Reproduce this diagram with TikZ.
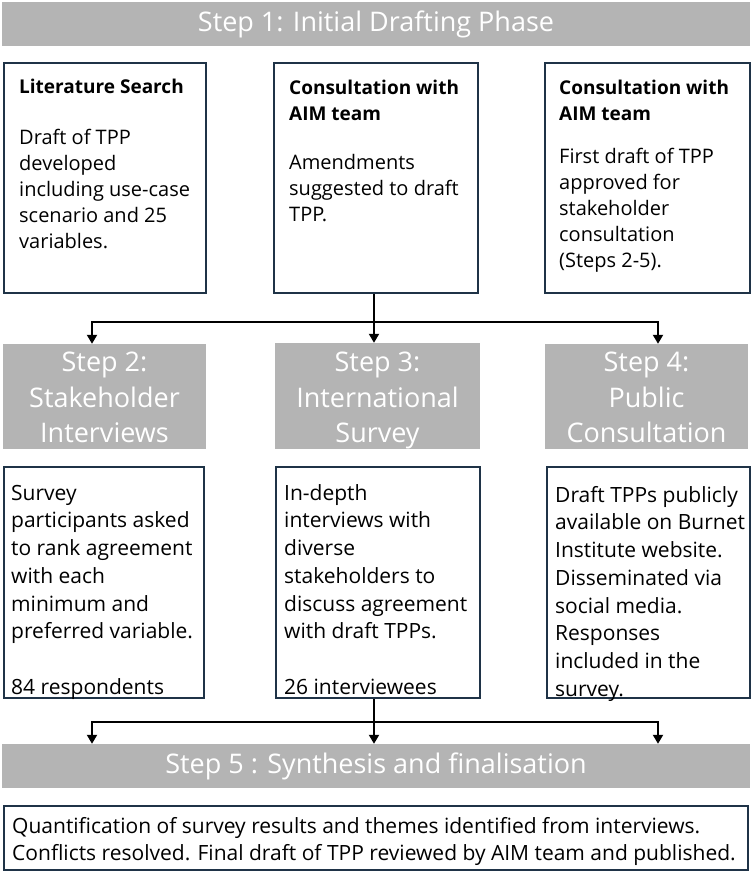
\documentclass[tikz,border=0pt]{standalone}
\usepackage{fontspec}
\setmainfont{Open Sans}
\usetikzlibrary{arrows.meta}
\definecolor{hgray}{RGB}{180,180,180}
\definecolor{bdr}{HTML}{1F3347}
\newcommand{\fstrut}{\rule{0pt}{16pt}}
\newcommand{\hstrut}{\rule{0pt}{22pt}}
\begin{document}
\begin{tikzpicture}[x=1pt,y=-1pt,
  banner/.style={fill=hgray, inner sep=0pt, text=white, font=\fontsize{27}{35}\selectfont, align=center},
  htext/.style={anchor=north, inner sep=0pt, text=white, font=\fontsize{27}{35.5}\selectfont, align=center},
  frame/.style={draw=bdr, line width=2pt, fill=white, inner sep=0pt},
  body/.style={anchor=north west, inner sep=0pt, align=left, font=\fontsize{20}{26}\selectfont},
  bodyb/.style={body, font=\fontsize{21}{27.7}\selectfont},
  conn/.style={line width=2pt, black},
  arr/.style={conn, -{Triangle[length=9pt,width=10pt]}}]

\useasboundingbox (0,0) rectangle (752,873);

% Step 1 banner
\node[banner, minimum width=748, minimum height=44] (s1) at (376,24) {Step 1: Initial Drafting Phase};

% Row 1 boxes
\node[frame, minimum width=202, minimum height=230] (b1) at (105,178) {};
\node[frame, minimum width=204, minimum height=230] (b2) at (376,178) {};
\node[frame, minimum width=205, minimum height=230] (b3) at (647.5,178) {};

\node[body] (t1) at (19,77) {\fstrut{\bfseries\fontsize{19}{26}\selectfont Literature Search}\\[25pt]
  Draft of TPP\\developed\\including use-case\\scenario and 25\\variables.};
\node[body] (t2) at (289,78) {\fstrut{\bfseries\fontsize{19}{26}\selectfont Consultation with}\\
  {\bfseries\fontsize{19}{26}\selectfont AIM team}\\[23pt]
  Amendments\\suggested to draft\\TPP.};
\node[body] (t3) at (559,78) {\fstrut{\bfseries\fontsize{19}{26}\selectfont Consultation with}\\
  {\bfseries\fontsize{19}{26}\selectfont AIM team}\\[17pt]
  First draft of TPP\\approved for\\stakeholder\\consultation\\(Steps 2-5).};

% Row 2 grey headers
\node[banner, minimum width=203, minimum height=105] (h1) at (104.5,396.5) {};
\node[banner, minimum width=205, minimum height=106] (h2) at (377.5,396) {};
\node[banner, minimum width=203, minimum height=105] (h3) at (646.5,396.5) {};
\node[htext] (g1) at (104.5,349.5) {\hstrut Step 2:\\Stakeholder\\Interviews};
\node[htext] (g2) at (377.5,349.5) {\hstrut Step 3:\\International\\Survey};
\node[htext] (g3) at (646.5,349.5) {\hstrut Step 4:\\Public\\Consultation};

% Row 3 boxes
\node[frame, minimum width=200, minimum height=231] (r1) at (104,582.5) {};
\node[frame, minimum width=204, minimum height=231] (r2) at (378,582.5) {};
\node[frame, minimum width=203, minimum height=231] (r3) at (648.5,582.5) {};

\node[bodyb] (u1) at (11,484) {\fstrut Survey\\participants asked\\to rank agreement\\with each\\minimum and\\preferred variable.\\[27.7pt]84 respondents};
\node[bodyb] (u2) at (284,484) {\fstrut In-depth\\interviews with\\diverse\\stakeholders to\\discuss agreement\\with draft TPPs.\\[27.7pt]26 interviewees};
\node[bodyb] (u3) at (555,486) {\fstrut Draft TPPs publicly\\available on Burnet\\Institute website.\\Disseminated via\\social media.\\Responses\\included in the\\survey.};

% Step 5 banner and final box
\node[banner, minimum width=748, minimum height=44] (s5) at (376,766) {Step 5 : Synthesis and finalisation};
\node[frame, minimum width=744, minimum height=64] (f) at (376,838) {};
\node[body, font=\fontsize{21}{27}\selectfont] (ft) at (12,817) {\fstrut Quantification of survey results and themes identified from interviews.\\Conflicts resolved. Final draft of TPP reviewed by AIM team and published.};

% Connectors top
\path (b2.south) ++(-2,28) coordinate (j1);
\coordinate (jL) at (92,321);
\coordinate (jR) at (658,321);
\draw[conn] (b2.south -| j1) -- (j1);
\draw[arr] (j1) -| (jL |- h1.north);
\draw[arr] (j1) -| (jR |- h3.north);
\draw[arr] (j1) -- (j1 |- h2.north);

% Connectors bottom
\path (r2.south) ++(-4,23) coordinate (k1);
\coordinate (kL) at (92,721);
\coordinate (kR) at (658,721);
\draw[conn] (r2.south -| k1) -- (k1);
\draw[arr] (k1) -| (kL |- s5.north);
\draw[arr] (k1) -| (kR |- s5.north);
\draw[arr] (k1) -- (k1 |- s5.north);
\end{tikzpicture}
\end{document}
